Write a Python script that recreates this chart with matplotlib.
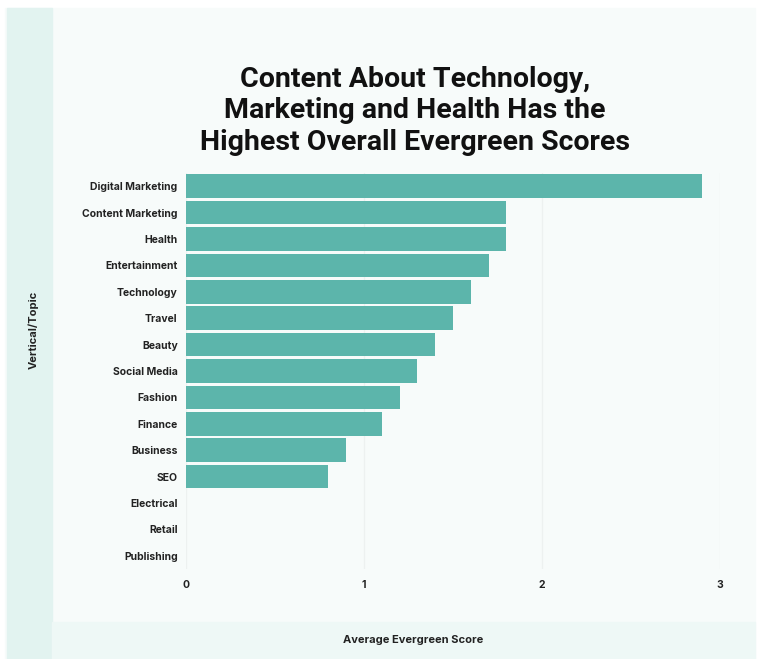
import matplotlib.pyplot as plt
from matplotlib.patches import Rectangle

topics = ['Digital Marketing', 'Content Marketing', 'Health', 'Entertainment',
          'Technology', 'Travel', 'Beauty', 'Social Media', 'Fashion',
          'Finance', 'Business', 'SEO', 'Electrical', 'Retail', 'Publishing']
scores = [2.9, 1.8, 1.8, 1.7, 1.6, 1.5, 1.4, 1.3, 1.2, 1.1, 0.9, 0.8, 0, 0, 0]
xticks = [0, 1, 2, 3]

plt.rcParams['font.family'] = ['Inter', 'DejaVu Sans']

fig = plt.figure(figsize=(7.61, 6.59), dpi=100)
fig.patch.set_facecolor('white')

# card background with side and bottom bands
fig.patches.append(Rectangle((5 / 761, 0), 750 / 761, 1 - 8 / 659,
                             transform=fig.transFigure, color='#f7fbfa', zorder=-3))
fig.patches.append(Rectangle((7 / 761, 0), 45 / 761, 1 - 8 / 659,
                             transform=fig.transFigure, color='#e2f3f0', zorder=-2))
fig.patches.append(Rectangle((52 / 761, 0), 703 / 761, 37 / 659,
                             transform=fig.transFigure, color='#eef8f6', zorder=-2))

ax = fig.add_axes([186 / 761, 1 - 569 / 659, 534 / 761, 396 / 659])
ax.set_zorder(2)
ax.set_facecolor('none')

y = list(range(len(topics)))
ax.barh(y, scores, height=0.9, color='#5cb5ab', zorder=3)
ax.set_ylim(len(topics) - 0.5, -0.5)
ax.set_xlim(0, 3)
ax.set_yticks(y)
ax.set_yticklabels(topics, fontsize=7.5, fontweight='bold', color='#222222')
ax.set_xticks(xticks)
ax.set_xticklabels([str(t) for t in xticks], fontsize=7.5, fontweight='bold', color='#222222')
ax.tick_params(length=0, axis='y', pad=6)
ax.tick_params(length=0, axis='x', pad=8)
for s in ax.spines.values():
    s.set_visible(False)
ax.grid(axis='x', color='#edf1f0', linewidth=1, zorder=0)

fig.text(415 / 761, 1 - 111 / 659,
         'Content About Technology,\nMarketing and Health Has the\nHighest Overall Evergreen Scores',
         ha='center', va='center', fontsize=20.5, fontweight='bold', color='#111111',
         linespacing=1.22, family=['Roboto', 'DejaVu Sans'])
fig.text(413 / 761, 1 - 640 / 659, 'Average Evergreen Score', ha='center', va='center',
         fontsize=8, fontweight='bold', color='#222222')
fig.text(33 / 761, 1 - 330 / 659, 'Vertical/Topic', ha='center', va='center',
         rotation=90, fontsize=8, fontweight='bold', color='#222222')

fig.savefig('out.png', dpi=100)
